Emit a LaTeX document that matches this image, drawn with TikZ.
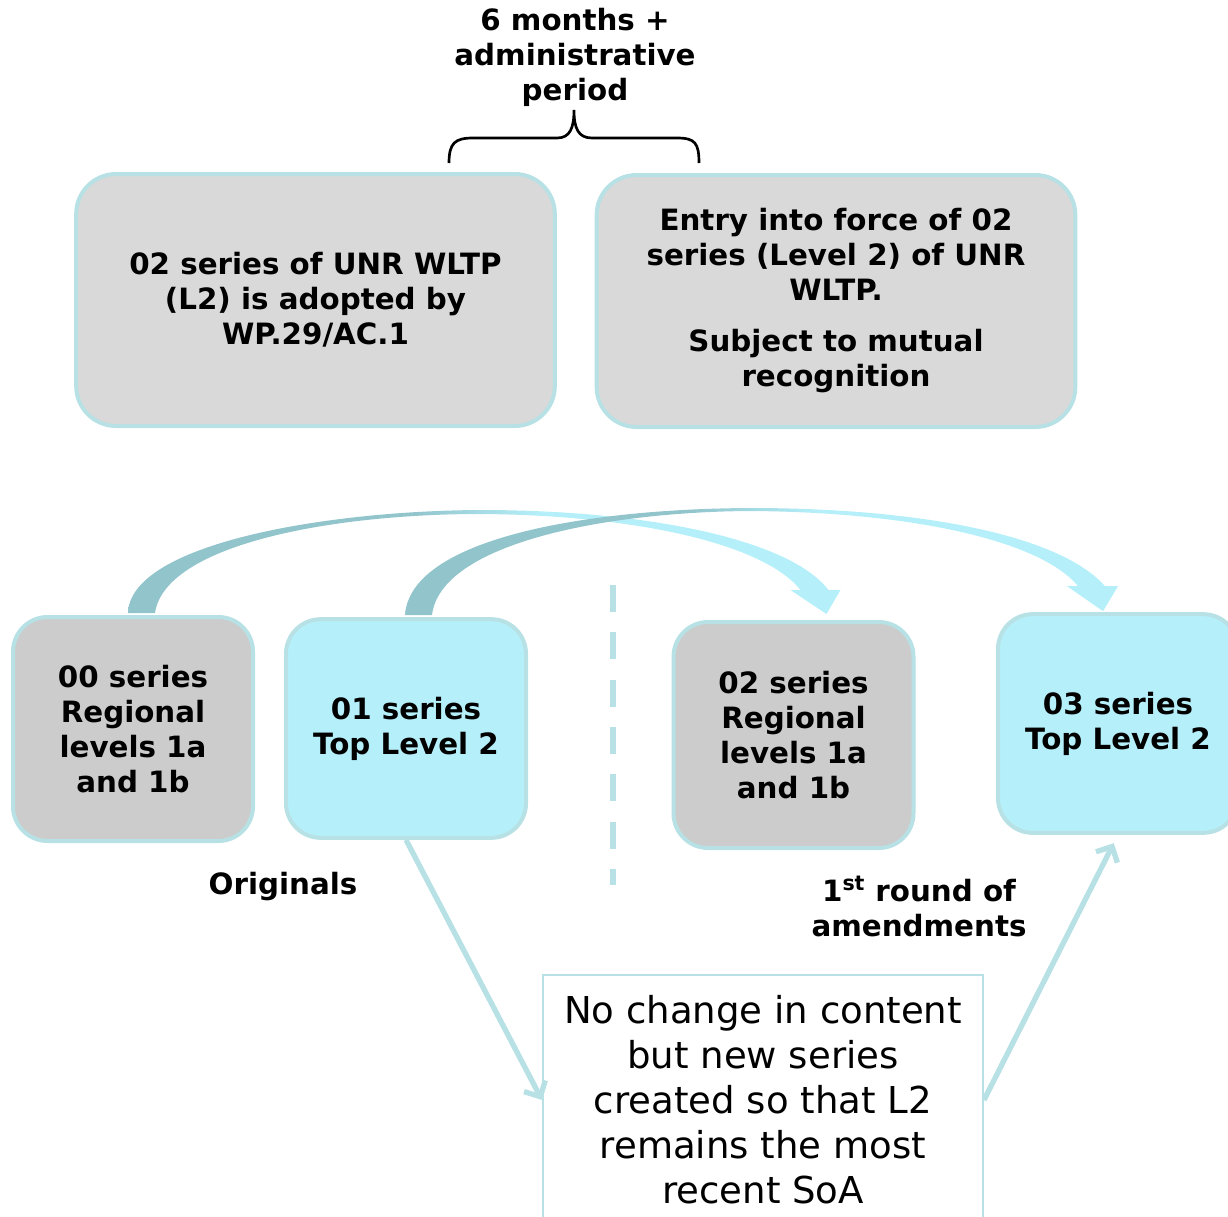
\documentclass[tikz,border=0pt]{standalone}
\usepackage{fontspec}
\setmainfont{DejaVu Sans}
\usetikzlibrary{arrows.meta,calc,backgrounds}

\definecolor{edgecyan}{HTML}{B7E1E4}
\definecolor{lightgrey}{HTML}{D9D9D9}
\definecolor{midgrey}{HTML}{CCCCCC}
\definecolor{paleblue}{HTML}{B5F0FA}
\definecolor{flowteal}{HTML}{92C4CC}
\definecolor{flowcyan}{HTML}{B5F0FA}
\pgfdeclarehorizontalshading{flowshade}{100bp}{color(0bp)=(flowteal); color(45bp)=(flowteal); color(54bp)=(flowcyan); color(100bp)=(flowcyan)}

\newcommand{\boxfont}{\fontsize{22}{26.25}\selectfont\bfseries}
\newcommand{\notefont}{\fontsize{27.8}{33.75}\selectfont}

\begin{document}
\begin{tikzpicture}[x=0.75pt, y=-0.75pt,
            box/.style={draw=edgecyan, line width=3pt, align=center, inner sep=0pt, font=\boxfont},
            topbox/.style={box, fill=lightgrey, rounded corners=30pt, minimum width=359pt, minimum height=189pt},
            greybox/.style={box, fill=midgrey, rounded corners=26pt, minimum width=180pt},
            bluebox/.style={box, fill=paleblue, rounded corners=26pt, minimum width=180pt},
            boldtext/.style={font=\boxfont, align=center},
            flow/.style={shade, shading=flowshade, shading angle=0},
            link/.style={draw=edgecyan, line width=4pt, -{Straight Barb[length=9pt,width=18pt]}}]
        \useasboundingbox (0,0) rectangle (1228,1217);

        \node[boldtext] (period) at (575,57) {6 months +\\administrative\\period};
        \node[topbox] (adopt) at (315.5,300) {02 series of UNR WLTP\\(L2) is adopted by\\WP.29/AC.1};
        \node[topbox] (force) at (836,301) {Entry into force of 02\\series (Level 2) of UNR\\WLTP.\\[12pt]Subject to mutual\\recognition};

        \coordinate (braceL) at (449,163);
        \coordinate (braceR) at (699,163);
        \coordinate (braceTip) at (574,110);
        \draw[line width=2pt] (braceL) .. controls (449,143) and (455,138) .. (473,138) -- (557,138)
            .. controls (570,138) and (574,128) .. (braceTip)
            .. controls (574,128) and (578,138) .. (592,138) -- (677,138)
            .. controls (695,138) and (699,143) .. (braceR);

        \node[greybox, minimum height=168pt] (s00) at (133,729) {00 series\\Regional\\levels 1a\\and 1b};
        \node[bluebox, minimum height=164pt] (s01) at (406,728.5) {01 series\\Top Level 2};
        \node[greybox, minimum height=169.5pt] (s02) at (793.5,735) {02 series\\Regional\\levels 1a\\and 1b};
        \node[bluebox, minimum height=164pt] (s03) at (1118,723.5) {03 series\\Top Level 2};

        \node[boldtext] (orig) at (283,887) {Originals};
        \node[boldtext] (amend) at (919,906.5) {1\textsuperscript{st} round of\\amendments};

        \draw[draw=edgecyan, line width=5pt, dash pattern=on 20.25pt off 15.25pt] (613,585) -- (613,885);

        \node[draw=edgecyan, line width=1.5pt, fill=white, minimum width=330pt, minimum height=187.5pt,
              align=center, inner sep=0pt, font=\notefont] (note) at (763,1100)
              {No change in content\\but new series\\created so that L2\\remains the most\\recent SoA};

        \begin{scope}[on background layer]
            \path (s00.north) ++(8,-2) coordinate (c1s);
            \path (s02.north) ++(33,-6) coordinate (c1e);
            \path[flow] ($(c1s)+(-13,0)$) .. controls (130,545) and (320,511) .. (480,510)
                .. controls (650,510) and (790,540) .. ($(c1e)+(2,-24)$)
                -- ($(c1e)+(14,-24)$) -- (c1e) -- ($(c1e)+(-36,-24)$) -- ($(c1e)+(-26,-24)$)
                .. controls (765,545) and (640,515) .. (480,514)
                .. controls (330,514) and (165,545) .. ($(c1s)+(14,0)$) -- cycle;
            \path (s01.north) ++(12,-2) coordinate (c2s);
            \path (s03.north) ++(-15,-1) coordinate (c2e);
            \path[flow] ($(c2s)+(-13,0)$) .. controls (410,540) and (580,509) .. (750,508)
                .. controls (920,508) and (1060,535) .. ($(c2e)+(2,-25)$)
                -- ($(c2e)+(15,-25)$) -- (c2e) -- ($(c2e)+(-36,-25)$) -- ($(c2e)+(-25,-25)$)
                .. controls (1040,540) and (910,512) .. (750,511)
                .. controls (600,512) and (440,545) .. ($(c2s)+(14,0)$) -- cycle;
        \end{scope}

        \draw[link] (s01.south) -- (note.west);
        \draw[link, shorten >=7pt] (note.east) -- (s03.south);
\end{tikzpicture}
\end{document}
